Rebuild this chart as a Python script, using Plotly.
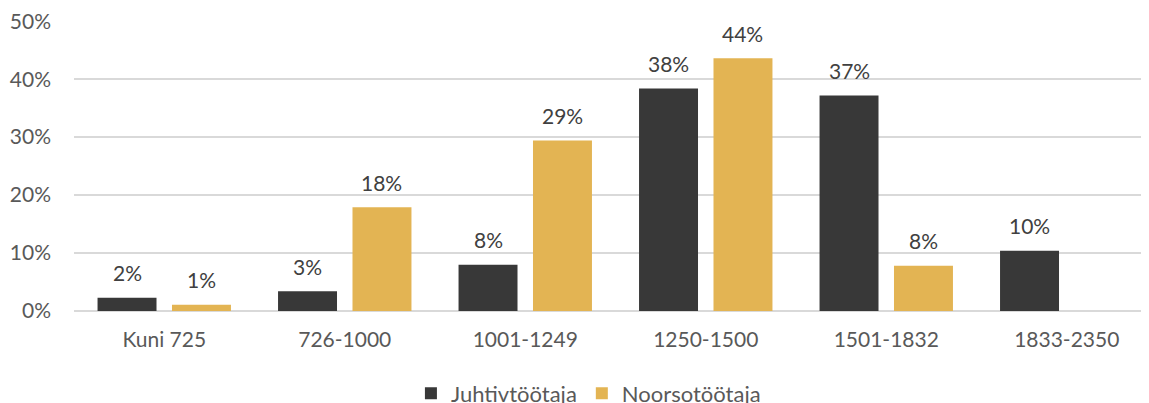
import plotly.graph_objects as go

categories = ["Kuni 725", "726-1000", "1001-1249", "1250-1500", "1501-1832", "1833-2350"]
juhtiv = [0.023, 0.034, 0.080, 0.384, 0.372, 0.104]
noorso = [0.011, 0.179, 0.294, 0.436, 0.078, None]
series_names = ["Juhtivtöötaja", "Noorsotöötaja"]
y_ticks = [0, 0.1, 0.2, 0.3, 0.4, 0.5]

DARK = "rgb(56,56,56)"
GOLD = "rgb(227,180,83)"
FONT = "Lato"

fig = go.Figure()
fig.add_trace(go.Bar(x=categories, y=juhtiv, name=series_names[0],
                     marker=dict(color=DARK, line=dict(width=0))))
fig.add_trace(go.Bar(x=categories, y=noorso, name=series_names[1],
                     marker=dict(color=GOLD, line=dict(width=0))))

annotations = []
for vals, shift in ((juhtiv, -37), (noorso, 37)):
    for c, v in zip(categories, vals):
        if v:
            annotations.append(dict(
                x=c, y=v, xref="x", yref="y", text=f"{round(v*100)}%",
                showarrow=False, xshift=shift, yshift=25, yanchor="middle",
                font=dict(family=FONT, size=21, color="#404040")))

fig.update_layout(
    width=1149, height=403,
    margin=dict(l=66, r=0, t=13, b=100, autoexpand=False),
    paper_bgcolor="white", plot_bgcolor="white",
    barmode="group", bargap=0.175, bargroupgap=0.208,
    font=dict(family=FONT, size=21, color="#595959"),
    showlegend=True,
    legend=dict(orientation="h", x=0.475, xanchor="center",
                y=-0.212, yanchor="top",
                font=dict(family=FONT, size=22, color="#595959"),
                itemsizing="constant", traceorder="normal"),
    annotations=annotations,
)
fig.update_xaxes(type="category", range=[-0.5, 5.5], showgrid=False,
                 showline=False, ticks="", ticklabelstandoff=14, automargin=False,
                 tickfont=dict(family=FONT, size=21, color="#595959"))
fig.update_yaxes(range=[0, 0.5004], tickvals=y_ticks, tickformat=".0%",
                 showgrid=True, gridcolor="#d9d9d9", gridwidth=1.5,
                 zeroline=True, zerolinecolor="#d9d9d9", zerolinewidth=1.5,
                 showline=False, ticks="", ticklabelstandoff=22, automargin=False,
                 ticklabeloverflow="allow",
                 tickfont=dict(family=FONT, size=21, color="#595959"))

fig.write_html("out.html")
